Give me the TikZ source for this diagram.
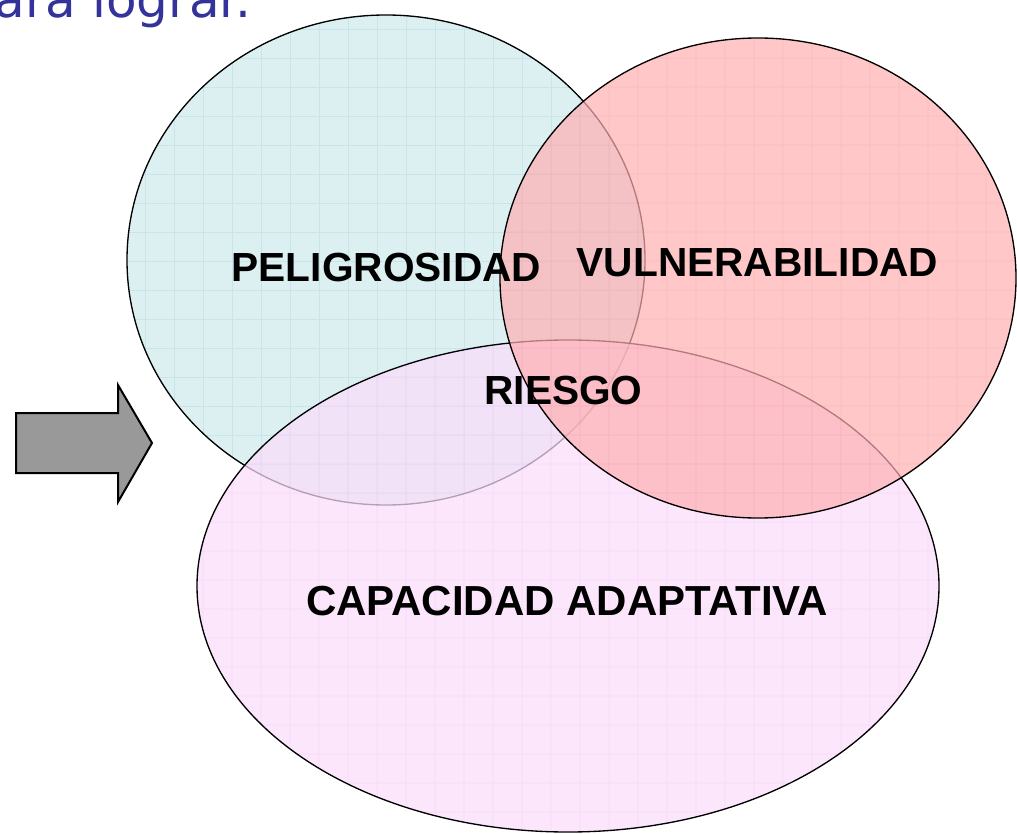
\documentclass[tikz,border=0pt]{standalone}
\usepackage{fontspec}
\setmainfont{Liberation Sans}
\newfontfamily\titlefont{DejaVu Sans}
\definecolor{bluefill}{HTML}{DCEFF1}
\definecolor{bluegrid}{HTML}{C9E5EA}
\definecolor{redfill}{HTML}{FFB0B2}
\definecolor{redgrid}{HTML}{F8A0A4}
\definecolor{pinkfill}{HTML}{FBDDFC}
\definecolor{pinkgrid}{HTML}{F4CBF6}
\definecolor{titleblue}{HTML}{333399}
\definecolor{arrowgray}{HTML}{999999}
\tikzset{
  outline/.style={draw=black, line width=1pt},
  lbl/.style={font=\bfseries\fontsize{30.5}{33}\selectfont, text=black, inner sep=0pt},
  gridlines/.style={line width=0.7pt},
}
\newcommand{\mygrid}[1]{%
  \foreach \gx in {0,29,...,1030} {\draw[gridlines,#1] (\gx,0) -- (\gx,834);}
  \foreach \gy in {0,29,...,850} {\draw[gridlines,#1] (0,\gy) -- (1017,\gy);}
}
\begin{document}
\begin{tikzpicture}[x=0.75pt, y=-0.75pt]
\useasboundingbox (0,0) rectangle (1017,834);
\fill[white] (0,0) rectangle (1017,834);
% blue ellipse
\begin{scope}
  \clip (386,260) ellipse [x radius=259, y radius=245];
  \fill[bluefill] (0,0) rectangle (1017,834);
  \mygrid{bluegrid}
\end{scope}
\draw[outline] (386,260) ellipse [x radius=259, y radius=245];
% pink ellipse
\begin{scope}[transparency group, opacity=0.72]
  \clip (568,586) ellipse [x radius=371, y radius=246];
  \fill[pinkfill] (0,0) rectangle (1017,834);
  \mygrid{pinkgrid}
\end{scope}
\draw[outline] (568,586) ellipse [x radius=371, y radius=246];
% red ellipse
\begin{scope}[transparency group, opacity=0.7]
  \clip (758,278) ellipse [x radius=258, y radius=240];
  \fill[redfill] (0,0) rectangle (1017,834);
  \mygrid{redgrid}
\end{scope}
\draw[outline] (758,278) ellipse [x radius=258, y radius=240];
% arrow
\draw[fill=arrowgray, draw=black, line width=1.5pt, line join=miter]
  (16,413) -- (118,413) -- (118,385) -- (152,443) -- (118,502) -- (118,473) -- (16,473) -- cycle;
% labels
\node[lbl] (pel) at (386.5,268) {PELIGROSIDAD};
\node[lbl] (vul) at (757.5,263) {VULNERABILIDAD};
\node[lbl] (rie) at (563.5,390) {RIESGO};
\node[lbl, font=\bfseries\fontsize{31.5}{34}\selectfont] (cap) at (567,601) {CAPACIDAD ADAPTATIVA};
% title fragment
\node[anchor=base east, inner sep=0pt, text=titleblue, font=\titlefont\fontsize{37.5}{42}\selectfont] (ttl) at (252,18) {para lograr.};
\end{tikzpicture}
\end{document}
